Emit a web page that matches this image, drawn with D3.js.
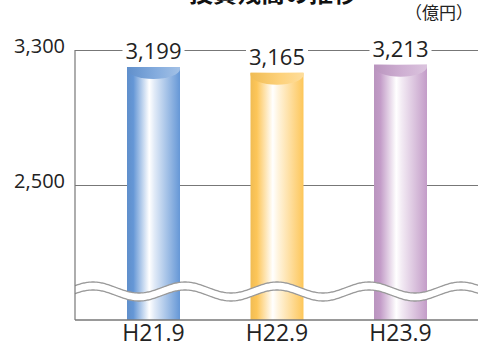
<!DOCTYPE html>
<html>
<head>
<meta charset="utf-8">
<script src="https://cdn.jsdelivr.net/npm/d3@7"></script>
<style>
  html, body { margin: 0; padding: 0; background: #fff; }
  svg { display: block; }
</style>
</head>
<body>
<svg id="chart" width="478" height="345"></svg>
<script>
// Investment balance by fiscal half-year (unit: 100 million yen)
const categories = ["H21.9", "H22.9", "H23.9"];
const balances = [3199, 3165, 3213];
const yTicks = [2500, 3300];
const barColors = ["#6597d6", "#fdc659", "#c39cc8"];
const title = "投資残高の推移";
const unitLabel = "（億円）";

const W = 478, H = 345;
const plotLeft = 75, plotRight = 478, plotBottom = 320;

const svg = d3.select("#chart");

const x = d3.scaleBand()
  .domain(categories)
  .range([91.75, 462.25])
  .paddingInner(0.5709)
  .paddingOuter(0.2854);

const y = d3.scaleLinear()
  .domain([2500, 3300])
  .range([185, 50]);

const defs = svg.append("defs");
categories.forEach((c, i) => {
  const col = d3.color(barColors[i]);
  const g = defs.append("linearGradient")
    .attr("id", "bar" + i).attr("x1", 0).attr("x2", 1).attr("y1", 0).attr("y2", 0);
  g.append("stop").attr("offset", 0).attr("stop-color", col.darker(0.15));
  g.append("stop").attr("offset", 0.12).attr("stop-color", col);
  g.append("stop").attr("offset", 0.42).attr("stop-color", "#ffffff");
  g.append("stop").attr("offset", 0.52).attr("stop-color", d3.interpolateRgb(col, "#fff")(0.8));
  g.append("stop").attr("offset", 1).attr("stop-color", col);

  const cg = defs.append("linearGradient")
    .attr("id", "cap" + i).attr("x1", 0).attr("x2", 1).attr("y1", 0).attr("y2", 0);
  cg.append("stop").attr("offset", 0).attr("stop-color", col.darker(0.15));
  cg.append("stop").attr("offset", 0.55).attr("stop-color", d3.interpolateRgb(col, "#fff")(0.2));
  cg.append("stop").attr("offset", 1).attr("stop-color", d3.interpolateRgb(col, "#fff")(0.4));
});

// Title (partly above the visible area)
svg.append("text")
  .attr("x", 273).attr("y", 2)
  .attr("text-anchor", "middle")
  .attr("font-family", "Noto Sans CJK JP")
  .attr("font-weight", 700)
  .attr("font-size", 24)
  .attr("fill", "#111")
  .text(title);

svg.append("text")
  .attr("x", 473).attr("y", 19)
  .attr("text-anchor", "end")
  .attr("font-family", "Noto Sans CJK JP")
  .attr("font-size", 17)
  .attr("fill", "#222")
  .text(unitLabel);

// Gridlines and y labels
const yAxis = svg.append("g")
  .attr("transform", `translate(${plotLeft},0)`)
  .call(d3.axisLeft(y).tickValues(yTicks).tickFormat(d3.format(","))
    .tickSize(-(plotRight - plotLeft)).tickPadding(10));
yAxis.select(".domain").remove();
yAxis.selectAll(".tick line").attr("stroke", "#777").attr("stroke-width", 1.2);
yAxis.selectAll(".tick text")
  .attr("font-family", "Open Sans")
  .attr("font-size", 20)
  .attr("fill", "#222")
  .attr("dy", "0.1em");

// Bars
const bars = svg.append("g");
categories.forEach((c, i) => {
  const x0 = x(c), w = x.bandwidth(), top = y(balances[i]);
  bars.append("rect")
    .attr("x", x0).attr("y", top)
    .attr("width", w).attr("height", plotBottom - top)
    .attr("fill", `url(#bar${i})`);
  bars.append("path")
    .attr("d", `M${x0},${top} L${x0 + w},${top} L${x0 + w},${top + 2} A${w / 2},10 0 0 1 ${x0},${top + 2} Z`)
    .attr("fill", `url(#cap${i})`);
});

// Value labels with a white backing over the gridline
const labels = svg.append("g");
categories.forEach((c, i) => {
  const g = labels.append("g");
  const t = g.append("text")
    .attr("x", x(c) + x.bandwidth() / 2)
    .attr("y", y(balances[i]) - 8)
    .attr("text-anchor", "middle")
    .attr("font-family", "Open Sans")
    .attr("font-size", 22)
    .attr("fill", "#222")
    .text(d3.format(",")(balances[i]));
  const bb = t.node().getBBox();
  g.insert("rect", "text")
    .attr("x", bb.x - 3).attr("y", bb.y + 2)
    .attr("width", bb.width + 6).attr("height", bb.height - 4)
    .attr("fill", "#fff");
});

// Axis break: two wavy lines with white between them
const period = 92, amp = 5.5, mid = 287.5, gap = 8, phase = 277;
const xs = d3.range(plotLeft, plotRight + 1, 1);
const waveY = px => mid - amp * Math.cos(2 * Math.PI * (px - phase) / period);
svg.append("path")
  .datum(xs)
  .attr("d", d3.area().x(d => d).y0(d => waveY(d)).y1(d => waveY(d) + gap))
  .attr("fill", "#fff");
[0, gap].forEach(off => {
  svg.append("path")
    .datum(xs)
    .attr("d", d3.line().x(d => d).y(d => waveY(d) + off))
    .attr("fill", "none")
    .attr("stroke", "#999")
    .attr("stroke-width", 1.3);
});

// Axes lines
svg.append("line")
  .attr("x1", plotLeft).attr("x2", plotLeft)
  .attr("y1", y(3300)).attr("y2", plotBottom)
  .attr("stroke", "#777").attr("stroke-width", 1.2);

const xAxis = svg.append("g")
  .attr("transform", `translate(0,${plotBottom})`)
  .call(d3.axisBottom(x).tickSize(0));
xAxis.select(".domain").remove();
xAxis.selectAll(".tick text")
  .attr("y", 21)
  .attr("dy", null)
  .attr("font-family", "Open Sans")
  .attr("font-size", 23)
  .attr("fill", "#222");
svg.append("line")
  .attr("x1", plotLeft).attr("x2", plotRight)
  .attr("y1", plotBottom).attr("y2", plotBottom)
  .attr("stroke", "#777").attr("stroke-width", 1.5);
</script>
</body>
</html>
